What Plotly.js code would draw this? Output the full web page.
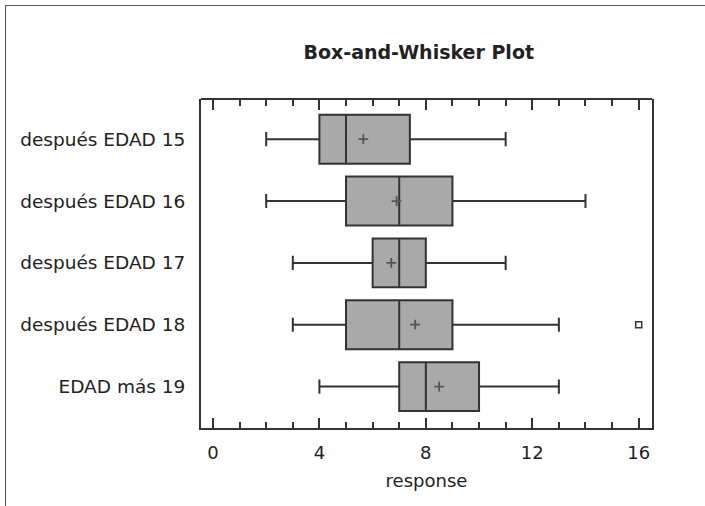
<!DOCTYPE html>
<html>
<head>
<meta charset="utf-8">
<script src="https://cdn.plot.ly/plotly-3.0.1.min.js"></script>
<style>
  html, body { margin: 0; padding: 0; background: #fff; }
  #wrap { position: relative; width: 705px; height: 506px; overflow: hidden; }
  #frame { position: absolute; left: 5px; top: 5px; width: 720px; height: 520px;
           border-left: 1.5px solid #555; border-top: 1.5px solid #555; pointer-events: none; }
  #chart { position: absolute; left: 0; top: 0; width: 705px; height: 506px; }
</style>
</head>
<body>
<div id="wrap">
  <div id="chart"></div>
  <div id="frame"></div>
</div>
<script>
const categories = ["después EDAD 15", "después EDAD 16", "después EDAD 17", "después EDAD 18", "EDAD más 19"];
const lowerWhisker = [2, 2, 3, 3, 4];
const q1Values = [4, 5, 6, 5, 7];
const medianValues = [5, 7, 7, 7, 8];
const q3Values = [7.4, 9, 8, 9, 10];
const upperWhisker = [11, 14, 11, 13, 13];
const meanValues = [5.65, 6.9, 6.7, 7.6, 8.5];
const outlierCategories = ["después EDAD 18"];
const outlierValues = [16];
const majorTicks = [0, 4, 8, 12, 16];
const minorTicks = [1, 2, 3, 5, 6, 7, 9, 10, 11, 13, 14, 15];

const font = "DejaVu Sans, sans-serif";
const xRange = [-0.45, 16.5];

const data = [
  {
    type: "box",
    orientation: "h",
    y: categories,
    q1: q1Values,
    median: medianValues,
    q3: q3Values,
    lowerfence: lowerWhisker,
    upperfence: upperWhisker,
    width: 0.79,
    whiskerwidth: 0.29,
    fillcolor: "#a9a9a9",
    line: { color: "#333333", width: 2 },
    hoverinfo: "skip",
    showlegend: false
  },
  {
    type: "scatter",
    mode: "markers",
    x: meanValues,
    y: categories,
    marker: { symbol: "cross-thin", size: 7, line: { color: "#555555", width: 1.8 } },
    hoverinfo: "skip",
    showlegend: false
  },
  {
    type: "scatter",
    mode: "markers",
    x: outlierValues,
    y: outlierCategories,
    marker: { symbol: "square-open", size: 6, color: "#333333", line: { color: "#333333", width: 1.5 } },
    hoverinfo: "skip",
    showlegend: false
  },
  {
    type: "scatter",
    mode: "markers",
    x: outlierValues,
    y: outlierCategories,
    xaxis: "x2",
    yaxis: "y",
    marker: { opacity: 0 },
    hoverinfo: "skip",
    showlegend: false
  }
];

function tickStyle(mainLen, minorLen) {
  return {
    ticks: "inside",
    ticklen: mainLen,
    tickwidth: 2,
    tickcolor: "#333333",
    minor: { tickvals: minorTicks.slice(), ticks: "inside", ticklen: minorLen, tickwidth: 2, tickcolor: "#333333" },
    showgrid: false,
    zeroline: false
  };
}

const layout = {
  width: 705,
  height: 506,
  margin: { l: 201, r: 53, t: 99, b: 78 },
  paper_bgcolor: "#ffffff",
  plot_bgcolor: "rgba(0,0,0,0)",
  font: { family: font, size: 18, color: "#222222" },
  title: {
    text: "<b>Box-and-Whisker Plot</b>",
    font: { family: font, size: 19, color: "#222222" },
    x: 0.594, xanchor: "center",
    y: 0.897, yanchor: "middle"
  },
  xaxis: Object.assign({
    range: xRange,
    tickvals: majorTicks,
    ticktext: majorTicks.map(String),
    showline: true,
    linecolor: "#333333",
    linewidth: 2,
    ticklabelstandoff: 7,
    tickfont: { family: font, size: 18, color: "#222222" },
    title: { text: "response", font: { family: font, size: 18, color: "#222222" }, standoff: 13 }
  }, tickStyle(10, 6)),
  xaxis2: Object.assign({
    overlaying: "x",
    anchor: "free",
    position: 1,
    side: "top",
    range: xRange,
    tickvals: majorTicks,
    ticktext: majorTicks.map(() => ""),
    showticklabels: true,
    showline: true,
    linecolor: "#333333",
    linewidth: 2,
    layer: "above traces"
  }, tickStyle(10, 6)),
  yaxis: {
    type: "category",
    categoryorder: "array",
    categoryarray: categories,
    range: [4.67, -0.65],
    showline: true,
    linecolor: "#333333",
    linewidth: 2,
    mirror: true,
    ticks: "",
    showgrid: false,
    zeroline: false,
    ticklabelstandoff: 10,
    tickfont: { family: font, size: 18.5, color: "#222222" }
  }
};

Plotly.newPlot("chart", data, layout, { displayModeBar: false, staticPlot: true });
</script>
</body>
</html>
